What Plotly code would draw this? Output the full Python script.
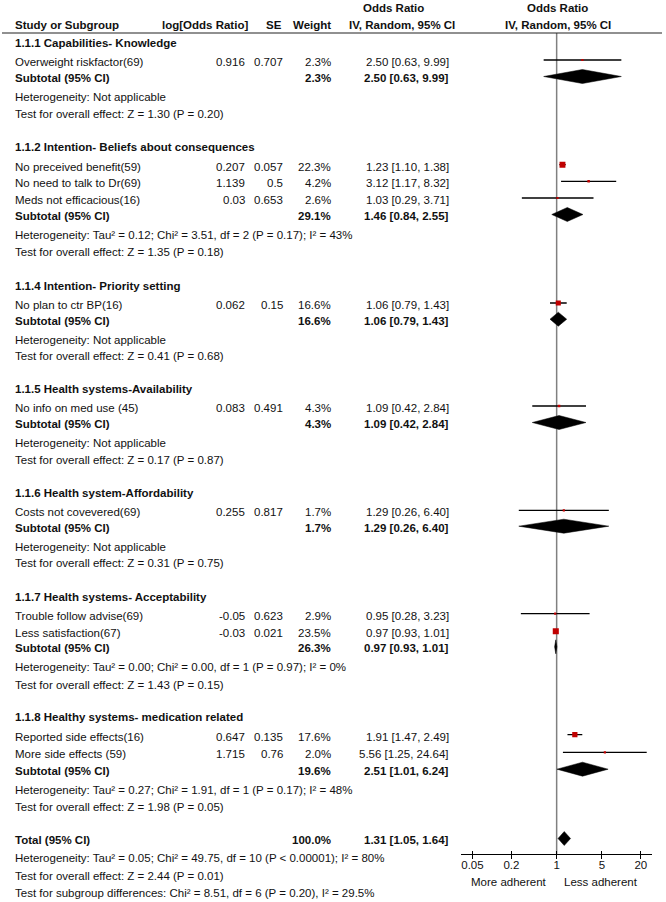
import plotly.graph_objects as go
import math

# ---------------- data ----------------
group_titles = [
    "1.1.1 Capabilities- Knowledge",
    "1.1.2 Intention- Beliefs about consequences",
    "1.1.4 Intention- Priority setting",
    "1.1.5 Health systems-Availability",
    "1.1.6 Health system-Affordability",
    "1.1.7 Health systems- Acceptability",
    "1.1.8 Healthy systems- medication related",
]
study_names = [
    "Overweight riskfactor(69)",
    "No preceived benefit(59)",
    "No need to talk to Dr(69)",
    "Meds not efficacious(16)",
    "No plan to ctr BP(16)",
    "No info on med use (45)",
    "Costs not covevered(69)",
    "Trouble follow advise(69)",
    "Less satisfaction(67)",
    "Reported side effects(16)",
    "More side effects (59)",
]
log_or = [0.916, 0.207, 1.139, 0.03, 0.062, 0.083, 0.255, -0.05, -0.03, 0.647, 1.715]
se = [0.707, 0.057, 0.5, 0.653, 0.15, 0.491, 0.817, 0.623, 0.021, 0.135, 0.76]
weight = [2.3, 22.3, 4.2, 2.6, 16.6, 4.3, 1.7, 2.9, 23.5, 17.6, 2.0]
or_est = [2.50, 1.23, 3.12, 1.03, 1.06, 1.09, 1.29, 0.95, 0.97, 1.91, 5.56]
or_lo = [0.63, 1.10, 1.17, 0.29, 0.79, 0.42, 0.26, 0.28, 0.93, 1.47, 1.25]
or_hi = [9.99, 1.38, 8.32, 3.71, 1.43, 2.84, 6.40, 3.23, 1.01, 2.49, 24.64]

sub_weight = [2.3, 29.1, 16.6, 4.3, 1.7, 26.3, 19.6]
sub_est = [2.50, 1.46, 1.06, 1.09, 1.29, 0.97, 2.51]
sub_lo = [0.63, 0.84, 0.79, 0.42, 0.26, 0.93, 1.01]
sub_hi = [9.99, 2.55, 1.43, 2.84, 6.40, 1.01, 6.24]
sub_het = [
    "Heterogeneity: Not applicable",
    "Heterogeneity: Tau² = 0.12; Chi² = 3.51, df = 2 (P = 0.17); I² = 43%",
    "Heterogeneity: Not applicable",
    "Heterogeneity: Not applicable",
    "Heterogeneity: Not applicable",
    "Heterogeneity: Tau² = 0.00; Chi² = 0.00, df = 1 (P = 0.97); I² = 0%",
    "Heterogeneity: Tau² = 0.27; Chi² = 1.91, df = 1 (P = 0.17); I² = 48%",
]
sub_test = [
    "Test for overall effect: Z = 1.30 (P = 0.20)",
    "Test for overall effect: Z = 1.35 (P = 0.18)",
    "Test for overall effect: Z = 0.41 (P = 0.68)",
    "Test for overall effect: Z = 0.17 (P = 0.87)",
    "Test for overall effect: Z = 0.31 (P = 0.75)",
    "Test for overall effect: Z = 1.43 (P = 0.15)",
    "Test for overall effect: Z = 1.98 (P = 0.05)",
]
total_weight = 100.0
total_est, total_lo, total_hi = 1.31, 1.05, 1.64
total_het = "Heterogeneity: Tau² = 0.05; Chi² = 49.75, df = 10 (P < 0.00001); I² = 80%"
total_test = "Test for overall effect: Z = 2.44 (P = 0.01)"
subgroup_test = "Test for subgroup differences: Chi² = 8.51, df = 6 (P = 0.20), I² = 29.5%"

tick_vals = [0.05, 0.2, 1, 5, 20]
tick_text = ["0.05", "0.2", "1", "5", "20"]
left_label = "More adherent"
right_label = "Less adherent"

# ---------------- layout (pixel rows) ----------------
W, H = 666, 902
group_y = [43, 146.7, 286, 389, 493.3, 596.7, 716.7]
study_y = [62, 166.7, 183.3, 200, 305, 408, 512.3, 615.7, 633.3, 736.7, 754.3]
sub_y = [78, 216, 320.7, 424, 527.7, 648.3, 770.7]
het_y = [97, 235, 340, 443, 547.3, 666.7, 790]
test_y = [114, 251.7, 356, 459.5, 563.3, 685, 806.7]
total_y, total_het_y, total_test_y, subgroup_y = 840, 858.3, 876, 893.3
axis_y = 854.3
header_line_y = 33

X_NAME, X_LOG, X_SE, X_W, X_OR = 13, 247, 285, 333, 451
FONT = "Arial, Liberation Sans, sans-serif"
FS = 11.5
TXT = "#111111"
RED = "#c00000"

ann = []


def text(x, y, s, anchor="left", bold=False):
    ann.append(dict(
        x=x / W, y=y, xref="paper", yref="y", text=f"<b>{s}</b>" if bold else s,
        showarrow=False, xanchor=anchor, yanchor="middle",
        font=dict(family=FONT, size=FS, color=TXT),
    ))


# headers
text(X_NAME, 25, "Study or Subgroup", bold=True)
text(250, 25, "log[Odds Ratio]", "right", bold=True)
text(284, 25, "SE", "right", bold=True)
text(333, 25, "Weight", "right", bold=True)
text(393, 8, "Odds Ratio", "center", bold=True)
text(401.5, 25, "IV, Random, 95% CI", "center", bold=True)
text(557, 8, "Odds Ratio", "center", bold=True)
text(558, 25, "IV, Random, 95% CI", "center", bold=True)

fig = go.Figure()

# line of no effect
fig.add_trace(go.Scatter(x=[1, 1], y=[header_line_y, axis_y], mode="lines",
                         line=dict(color="#808080", width=1.5), hoverinfo="skip"))

OFF = 2.0
for gi, title in enumerate(group_titles):
    text(X_NAME, group_y[gi], title, bold=True)
for i, name in enumerate(study_names):
    y = study_y[i]
    text(X_NAME, y, name)
    text(X_LOG, y, str(log_or[i]), "right")
    text(X_SE, y, str(se[i]), "right")
    text(X_W, y, f"{weight[i]:.1f}%", "right")
    text(X_OR, y, f"{or_est[i]:.2f} [{or_lo[i]:.2f}, {or_hi[i]:.2f}]", "right")
    ym = y - OFF
    fig.add_trace(go.Scatter(x=[or_lo[i], or_hi[i]], y=[ym, ym], mode="lines",
                             line=dict(color="black", width=1.3), hoverinfo="skip"))
    fig.add_trace(go.Scatter(x=[or_est[i]], y=[ym], mode="markers",
                             marker=dict(symbol="square", color=RED,
                                         size=max(2.2, 1.25 * math.sqrt(weight[i])),
                                         line=dict(width=0)),
                             hoverinfo="skip"))

for gi in range(len(group_titles)):
    y = sub_y[gi]
    text(X_NAME, y, "Subtotal (95% CI)", bold=True)
    text(X_W, y, f"{sub_weight[gi]:.1f}%", "right", bold=True)
    text(X_OR, y, f"{sub_est[gi]:.2f} [{sub_lo[gi]:.2f}, {sub_hi[gi]:.2f}]", "right", bold=True)
    text(X_NAME, het_y[gi], sub_het[gi])
    text(X_NAME, test_y[gi], sub_test[gi])
    ym = y - 1.5
    fig.add_trace(go.Scatter(
        x=[sub_lo[gi], sub_est[gi], sub_hi[gi], sub_est[gi], sub_lo[gi]],
        y=[ym, ym - 7, ym, ym + 7, ym], mode="lines", fill="toself",
        fillcolor="black", line=dict(color="black", width=0.5), hoverinfo="skip"))

# total
text(X_NAME, total_y, "Total (95% CI)", bold=True)
text(X_W, total_y, f"{total_weight:.1f}%", "right", bold=True)
text(X_OR, total_y, f"{total_est:.2f} [{total_lo:.2f}, {total_hi:.2f}]", "right", bold=True)
text(X_NAME, total_het_y, total_het)
text(X_NAME, total_test_y, total_test)
text(X_NAME, subgroup_y, subgroup_test)
ym = total_y - 1.5
fig.add_trace(go.Scatter(
    x=[total_lo, total_est, total_hi, total_est, total_lo],
    y=[ym, ym - 7, ym, ym + 7, ym], mode="lines", fill="toself",
    fillcolor="black", line=dict(color="black", width=0.5), hoverinfo="skip"))

# axis captions
text(549, 882, left_label, "right")
text(562, 882, right_label, "left")

# dummy trace for overlay axis (downward ticks)
fig.add_trace(go.Scatter(x=[1], y=[-100], xaxis="x2", mode="markers",
                         marker=dict(opacity=0), hoverinfo="skip"))

dom = [461 / W, 652.3 / W]
rng = [-1.478, 1.478]
pos = (H - axis_y) / H
fig.update_layout(
    width=W, height=H, margin=dict(l=0, r=0, t=0, b=0),
    paper_bgcolor="white", plot_bgcolor="white", showlegend=False,
    xaxis=dict(type="log", range=rng, domain=dom, anchor="free", position=pos,
               showline=True, linecolor="black", linewidth=1.2,
               ticks="inside", ticklen=3, tickwidth=1.2, tickcolor="black",
               tickvals=tick_vals, ticktext=tick_text, showgrid=False, zeroline=False,
               tickfont=dict(family=FONT, size=FS, color=TXT)),
    xaxis2=dict(type="log", range=rng, domain=dom, anchor="free", position=pos,
                overlaying="x", showline=False, ticks="outside", ticklen=3.5, tickwidth=1.2,
                tickcolor="black", tickvals=tick_vals, showticklabels=False,
                showgrid=False, zeroline=False),
    yaxis=dict(range=[H, 0], domain=[0, 1], visible=False, showgrid=False, zeroline=False),
    annotations=ann,
    shapes=[dict(type="line", xref="paper", yref="y", x0=2 / W, x1=662 / W,
                 y0=header_line_y, y1=header_line_y, line=dict(color="#222222", width=1.2))],
)

fig.write_html("out.html", config={"displayModeBar": False},
               post_script="document.body.style.margin='0';document.body.style.overflow='hidden';")
